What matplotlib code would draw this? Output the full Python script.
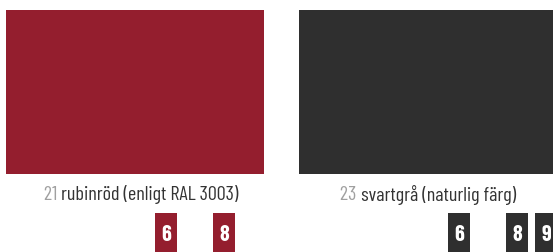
import matplotlib.pyplot as plt
from matplotlib.patches import Rectangle

# colour swatches
codes = ['21', '23']
names = ['rubinröd (enligt RAL 3003)', 'svartgrå (naturlig färg)']
colors = ['#941e2e', '#2f2f2f']
swatch_left = [6, 299]
label_center = [141, 428]
# available sizes per swatch
sizes = [[6, 8], [6, 8, 9]]

fig = plt.figure(figsize=(5.53, 2.53), dpi=100)
ax = fig.add_axes([0, 0, 1, 1])
ax.set_xlim(0, 553)
ax.set_ylim(253, 0)
ax.axis('off')

font = ['Barlow Condensed', 'DejaVu Sans']

for i in range(len(codes)):
    x0 = swatch_left[i]
    ax.add_patch(Rectangle((x0, 11), 258, 164, color=colors[i], lw=0))

    # label: grey code + dark name
    t1 = ax.text(label_center[i], 195, codes[i] + ' ', color='#a0a0a0',
                 fontsize=14.5, family=font, va='center', ha='left')
    t2 = ax.text(label_center[i], 195, names[i], color='#333333',
                 fontsize=14.5, family=font, va='center', ha='left')
    fig.canvas.draw()
    r = fig.canvas.get_renderer()
    w1 = t1.get_window_extent(r).width
    w2 = t2.get_window_extent(r).width
    start = label_center[i] - (w1 + w2) / 2
    t1.set_x(start)
    t2.set_x(start + w1)

    # size badges
    for s in sizes[i]:
        bx = x0 + 149 + 29 * (s - 6)
        ax.add_patch(Rectangle((bx, 214), 22, 45, color=colors[i], lw=0))
        ax.text(bx + 11, 235, str(s), color='white', fontsize=16,
                fontweight='bold', family=font, ha='center', va='center')

fig.savefig('out.png', dpi=100)
